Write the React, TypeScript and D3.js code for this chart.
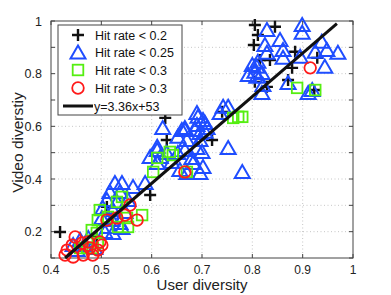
import React from "react";
import * as d3 from "d3";
import { useRef, useEffect } from "react";

// [user diversity, video diversity]
const hitLt02: [number, number][] = [
  [0.418, 0.199], [0.597, 0.339], [0.627, 0.632], [0.63, 0.548], [0.511, 0.294],
  [0.491, 0.18], [0.72, 0.548], [0.74, 0.655], [0.805, 0.985], [0.845, 0.978],
  [0.811, 0.947], [0.803, 0.909], [0.815, 0.852], [0.835, 0.852], [0.805, 0.769],
  [0.885, 0.883], [0.879, 0.822], [0.871, 0.776], [0.929, 0.86], [0.923, 0.738],
  [0.829, 0.75],
];

const hitLt025: [number, number][] = [
  [0.829, 0.966], [0.899, 0.985], [0.899, 0.955], [0.855, 0.928], [0.825, 0.909],
  [0.829, 0.879], [0.861, 0.89], [0.938, 0.921], [0.925, 0.883], [0.948, 0.89],
  [0.97, 0.879], [0.944, 0.826], [0.895, 0.864], [0.861, 0.86], [0.809, 0.826],
  [0.805, 0.807], [0.819, 0.803], [0.821, 0.757], [0.819, 0.727], [0.871, 0.765],
  [0.911, 0.727], [0.919, 0.738], [0.811, 0.845], [0.8, 0.833], [0.809, 0.788],
  [0.792, 0.795],
  [0.742, 0.674], [0.752, 0.674], [0.736, 0.651], [0.69, 0.651], [0.702, 0.624],
  [0.69, 0.605], [0.666, 0.594], [0.71, 0.594], [0.696, 0.575], [0.692, 0.636],
  [0.706, 0.613], [0.666, 0.586], [0.686, 0.586], [0.706, 0.579], [0.67, 0.548],
  [0.696, 0.548], [0.666, 0.51], [0.69, 0.518], [0.7, 0.503], [0.68, 0.48],
  [0.752, 0.518], [0.78, 0.427],
  [0.611, 0.522], [0.597, 0.484], [0.617, 0.484], [0.63, 0.499], [0.611, 0.461],
  [0.64, 0.465], [0.652, 0.499], [0.656, 0.434], [0.682, 0.461], [0.702, 0.446],
  [0.696, 0.423], [0.67, 0.423], [0.622, 0.594], [0.66, 0.586], [0.652, 0.56],
  [0.611, 0.51],
  [0.527, 0.385], [0.541, 0.385], [0.517, 0.351], [0.537, 0.351], [0.563, 0.37],
  [0.587, 0.385], [0.511, 0.32], [0.531, 0.313], [0.553, 0.32], [0.503, 0.29],
  [0.523, 0.282], [0.547, 0.275], [0.501, 0.252], [0.521, 0.244], [0.537, 0.233],
  [0.513, 0.218], [0.541, 0.214], [0.507, 0.199], [0.523, 0.195],
  [0.458, 0.168], [0.474, 0.176], [0.468, 0.149], [0.444, 0.149], [0.487, 0.138],
  [0.452, 0.13],
];

const hitLt03: [number, number][] = [
  [0.541, 0.332], [0.531, 0.313], [0.497, 0.282], [0.493, 0.244], [0.481, 0.206],
  [0.491, 0.195], [0.513, 0.256], [0.551, 0.252], [0.553, 0.218], [0.581, 0.263],
  [0.533, 0.218], [0.493, 0.157], [0.458, 0.138], [0.472, 0.138], [0.483, 0.138],
  [0.611, 0.48], [0.636, 0.503], [0.603, 0.427], [0.642, 0.491], [0.67, 0.427],
  [0.889, 0.746], [0.925, 0.738], [0.762, 0.632], [0.772, 0.636], [0.78, 0.636],
];

const hitGt03: [number, number][] = [
  [0.915, 0.822], [0.666, 0.427], [0.557, 0.301], [0.571, 0.244], [0.547, 0.263],
  [0.531, 0.252], [0.511, 0.244], [0.462, 0.157], [0.442, 0.149], [0.432, 0.13],
  [0.428, 0.111], [0.444, 0.104], [0.477, 0.138], [0.493, 0.13], [0.501, 0.149],
  [0.448, 0.18], [0.474, 0.161], [0.497, 0.161], [0.483, 0.111], [0.464, 0.111],
];

const fitLine: [number, number][] = [[0.428, 0.1], [0.968, 0.99]];

const xTicks = [0.4, 0.5, 0.6, 0.7, 0.8, 0.9, 1];
const yTicks = [0.1, 0.2, 0.3, 0.4, 0.5, 0.6, 0.7, 0.8, 0.9, 1];
const yLabels = [0.2, 0.4, 0.6, 0.8, 1];
const legendLabels = ["Hit rate < 0.2", "Hit rate < 0.25", "Hit rate < 0.3", "Hit rate > 0.3", "y=3.36x+53"];

const BLUE = "#1f4dff";
const GREEN = "#55ee11";
const RED = "#ff1a1a";
const FONT = "Liberation Sans, Arial, sans-serif";

export default function App() {
  const ref = useRef<SVGSVGElement>(null);

  useEffect(() => {
    const svg = d3.select(ref.current);
    svg.selectAll("*").remove();

    const left = 51, right = 353, top = 21, bottom = 258;
    const x = d3.scaleLinear().domain([0.4, 1]).range([left, right]);
    const y = d3.scaleLinear().domain([0.1, 1]).range([bottom, top]);

    svg.append("rect").attr("width", 391).attr("height", 295).attr("fill", "#fff");

    // grid
    const grid = svg.append("g").attr("stroke", "#b8b8b8").attr("stroke-width", 0.8).attr("stroke-dasharray", "1,2.5");
    xTicks.slice(1, -1).forEach((t) => {
      grid.append("line").attr("x1", x(t)).attr("x2", x(t)).attr("y1", top).attr("y2", bottom);
    });
    yTicks.slice(1, -1).forEach((t) => {
      grid.append("line").attr("x1", left).attr("x2", right).attr("y1", y(t)).attr("y2", y(t));
    });

    // box + inward ticks
    const ax = svg.append("g").attr("stroke", "#444").attr("stroke-width", 1);
    ax.append("rect").attr("x", left).attr("y", top).attr("width", right - left).attr("height", bottom - top).attr("fill", "none");
    xTicks.forEach((t) => {
      ax.append("line").attr("x1", x(t)).attr("x2", x(t)).attr("y1", bottom).attr("y2", bottom - 4);
      ax.append("line").attr("x1", x(t)).attr("x2", x(t)).attr("y1", top).attr("y2", top + 4);
    });
    yTicks.forEach((t) => {
      ax.append("line").attr("x1", left).attr("x2", left + 4).attr("y1", y(t)).attr("y2", y(t));
      ax.append("line").attr("x1", right).attr("x2", right - 4).attr("y1", y(t)).attr("y2", y(t));
    });

    const txt = svg.append("g").attr("font-family", FONT).attr("fill", "#222");
    xTicks.forEach((t) => {
      txt.append("text").attr("x", x(t)).attr("y", bottom + 16).attr("text-anchor", "middle")
        .attr("font-size", 12).text(t === 1 ? "1" : d3.format(".1f")(t));
    });
    yLabels.forEach((t) => {
      txt.append("text").attr("x", left - 9).attr("y", y(t) + 4.5).attr("text-anchor", "end")
        .attr("font-size", 12.5).text(t === 1 ? "1" : d3.format(".1f")(t));
    });
    txt.append("text").attr("x", (left + right) / 2).attr("y", 290).attr("text-anchor", "middle")
      .attr("font-size", 15).text("User diversity");
    txt.append("text").attr("transform", `translate(23,${(top + bottom) / 2 + 3}) rotate(-90)`)
      .attr("text-anchor", "middle").attr("font-size", 15.5).text("Video diverstiy");

    const drawPlus = (g: any, cx: number, cy: number) => {
      g.append("path").attr("d", `M${cx - 6},${cy}H${cx + 6}M${cx},${cy - 6}V${cy + 6}`)
        .attr("stroke", "#111").attr("stroke-width", 2.4).attr("fill", "none");
    };
    const drawTri = (g: any, cx: number, cy: number) => {
      g.append("path").attr("d", `M${cx},${cy - 7}L${cx + 7.5},${cy + 6}L${cx - 7.5},${cy + 6}Z`)
        .attr("stroke", BLUE).attr("stroke-width", 2).attr("fill", "none");
    };
    const drawSq = (g: any, cx: number, cy: number) => {
      g.append("rect").attr("x", cx - 5.3).attr("y", cy - 5.3).attr("width", 10.6).attr("height", 10.6)
        .attr("stroke", GREEN).attr("stroke-width", 1.8).attr("fill", "none");
    };
    const drawCirc = (g: any, cx: number, cy: number) => {
      g.append("circle").attr("cx", cx).attr("cy", cy).attr("r", 5.8)
        .attr("stroke", RED).attr("stroke-width", 1.8).attr("fill", "none");
    };

    const marks = svg.append("g");
    hitLt02.forEach((d) => drawPlus(marks, x(d[0]), y(d[1])));
    hitLt025.forEach((d) => drawTri(marks, x(d[0]), y(d[1])));
    hitLt03.forEach((d) => drawSq(marks, x(d[0]), y(d[1])));
    hitGt03.forEach((d) => drawCirc(marks, x(d[0]), y(d[1])));

    svg.append("path").datum(fitLine)
      .attr("d", d3.line<[number, number]>().x((d) => x(d[0])).y((d) => y(d[1])))
      .attr("stroke", "#111").attr("stroke-width", 3).attr("fill", "none");

    // legend
    const lg = svg.append("g");
    lg.append("rect").attr("x", 58).attr("y", 25).attr("width", 124).attr("height", 90)
      .attr("fill", "#fff").attr("stroke", "#444").attr("stroke-width", 1);
    const rows = [35, 52.5, 70, 88, 106];
    drawPlus(lg, 78, rows[0]);
    drawTri(lg, 78, rows[1]);
    drawSq(lg, 78, rows[2]);
    drawCirc(lg, 78, rows[3]);
    lg.append("line").attr("x1", 63).attr("x2", 93).attr("y1", rows[4]).attr("y2", rows[4])
      .attr("stroke", "#111").attr("stroke-width", 3);
    legendLabels.forEach((l, i) => {
      lg.append("text").attr("x", i === 4 ? 94 : 95).attr("y", rows[i] + 4.5).attr("font-family", FONT)
        .attr("font-size", 12.5).attr("fill", "#111").text(l);
    });
  }, []);

  return (
    <svg ref={ref} width={391} height={295} style={{ position: "absolute", left: 0, top: 0 }} />
  );
}
